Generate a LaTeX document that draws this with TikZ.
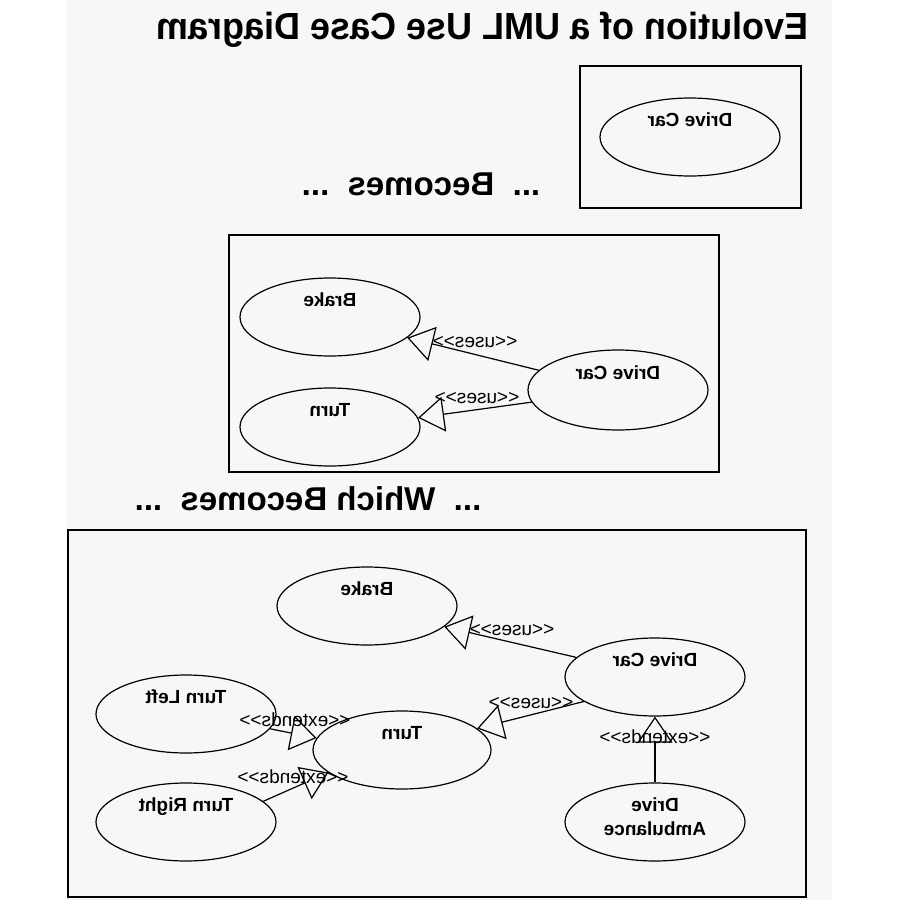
\documentclass[tikz,border=0pt]{standalone}
\usepackage{fontspec}
\usepackage{graphicx}
\newfontfamily\uf{Liberation Sans}
\usetikzlibrary{shapes.geometric,arrows.meta}
\definecolor{bgc}{RGB}{247,247,247}
\newcommand{\mirr}[1]{\scalebox{-1}[1]{#1}}
\newcommand{\uct}[1]{\raisebox{11pt}[0pt][0pt]{\scalebox{-1}[1]{#1}}}
\begin{document}
\begin{tikzpicture}[x=1pt,y=-1pt,
  uc/.style={ellipse, draw=black, line width=1.2pt, minimum width=180pt, minimum height=78pt, inner sep=0pt, font=\uf\bfseries\fontsize{19}{24}\selectfont},
  frame/.style={draw=black, line width=1.8pt, inner sep=0pt},
  heading/.style={inner sep=0pt, anchor=base, font=\uf\bfseries\fontsize{33}{40}\selectfont},
  lbl/.style={inner sep=0pt, font=\uf\fontsize{19}{24}\selectfont},
  rel/.style={line width=1.2pt, -{Triangle[open, length=26pt, width=35pt]}}
]
\useasboundingbox (0,0) rectangle (900,900);
\fill[white] (0,0) rectangle (900,900);
\fill[bgc] (67,0) rectangle (832,900);

% headings
\node[heading, font=\uf\bfseries\fontsize{36}{42}\selectfont] (title) at (482,39) {\scalebox{-1}[1.05]{Evolution of a UML Use Case Diagram}};
\node[heading] (become1) at (421,195) {\mirr{...~~Becomes~~...}};
\node[heading] (become2) at (308,510) {\mirr{...~~Which Becomes~~...}};

% frames
\node[frame, minimum width=221pt, minimum height=142pt] (box1) at (690.5,137) {};
\node[frame, minimum width=490pt, minimum height=237pt] (box2) at (474,353.5) {};
\node[frame, minimum width=738pt, minimum height=367pt] (box3) at (437,713.5) {};

% stage 1
\node[uc] (dc1) at (690,137) {\uct{Drive Car}};

% stage 2
\node[uc] (br2) at (330,317) {\uct{Brake}};
\node[uc] (tu2) at (330,427) {\uct{Turn}};
\node[uc, minimum height=80pt] (dc2) at (618,390) {\uct{Drive Car}};
\draw[rel] (dc2.166) -- (br2.345);
\draw[rel] (dc2.188) -- (tu2.6);
\node[lbl] (u2a) at (475,342) {\mirr{<<uses>>}};
\node[lbl] (u2b) at (477,398) {\mirr{<<uses>>}};

% stage 3
\node[uc] (br3) at (367,606) {\uct{Brake}};
\node[uc] (dc3) at (655,677) {\uct{Drive Car}};
\node[uc] (tl3) at (186,714) {\uct{Turn Left}};
\node[uc, minimum width=178pt] (tu3) at (402,750) {\uct{Turn}};
\node[uc] (tr3) at (186,822) {\uct{Turn Right}};
\node[uc] (da3) at (655,822) {\raisebox{11pt}[0pt][0pt]{\scalebox{-1}[1]{\begin{tabular}[t]{@{}c@{}}Drive\\Ambulance\end{tabular}}}};

\draw[rel] (dc3.166.6) -- (br3.345.3);
\draw[rel] (dc3.199.6) -- (tu3.16.7);
\draw[rel] (da3.north) -- (dc3.south);
\draw[rel] (tl3.-10.8) -- (tu3.172);
\draw[rel] (tr3.15) -- (tu3.197.7);

\node[lbl] (u3a) at (512,630) {\mirr{<<uses>>}};
\node[lbl] (u3b) at (531,703) {\mirr{<<uses>>}};
\node[lbl] (e3a) at (295,720) {\mirr{<<extends>>}};
\node[lbl] (e3b) at (293,777) {\mirr{<<extends>>}};
\node[lbl] (e3c) at (655,737) {\mirr{<<extends>>}};
\end{tikzpicture}
\end{document}
